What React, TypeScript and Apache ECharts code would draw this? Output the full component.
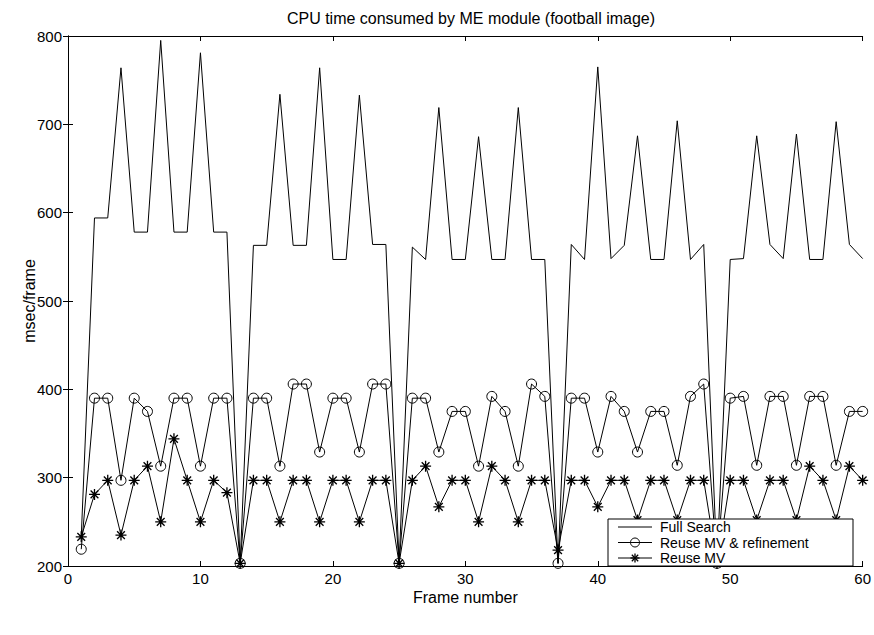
import React, { useEffect, useRef } from "react";
import * as echarts from "echarts";

const frames: number[] = Array.from({ length: 60 }, (_, i) => i + 1);

const fullSearch: number[] = [
  233, 594, 594, 764, 578, 578, 795, 578, 578, 781,
  578, 578, 203, 563, 563, 734, 563, 563, 764, 547,
  547, 733, 564, 564, 203, 561, 547, 719, 547, 547,
  686, 547, 547, 719, 547, 547, 203, 564, 547, 765,
  548, 563, 687, 547, 547, 704, 547, 564, 203, 547,
  548, 687, 564, 548, 689, 547, 547, 703, 564, 548,
];

const reuseRefine: number[] = [
  219, 390, 390, 297, 390, 375, 313, 390, 390, 313,
  390, 390, 203, 390, 390, 313, 406, 406, 329, 390,
  390, 329, 406, 406, 203, 390, 390, 329, 375, 375,
  313, 392, 375, 313, 406, 392, 203, 390, 390, 329,
  392, 375, 329, 375, 375, 314, 392, 406, 203, 390,
  392, 314, 392, 392, 314, 392, 392, 314, 375, 375,
];

const reuseMV: number[] = [
  233, 281, 297, 235, 297, 313, 250, 344, 297, 250,
  297, 283, 203, 297, 297, 250, 297, 297, 250, 297,
  297, 250, 297, 297, 203, 297, 313, 267, 297, 297,
  250, 313, 297, 250, 297, 297, 218, 297, 297, 267,
  297, 297, 252, 297, 297, 252, 297, 297, 203, 297,
  297, 252, 297, 297, 252, 313, 297, 252, 313, 297,
];

const seriesNames = ["Full Search", "Reuse MV & refinement", "Reuse MV"];
const titleText = "CPU time consumed by ME module (football image)";
const xName = "Frame number";
const yName = "msec/frame";

const asterisk =
  "path://M-1,-0.12L1,-0.12L1,0.12L-1,0.12Z" +
  "M-0.12,-1L0.12,-1L0.12,1L-0.12,1Z" +
  "M-0.792,-0.622L-0.622,-0.792L0.792,0.622L0.622,0.792Z" +
  "M0.622,-0.792L0.792,-0.622L-0.622,0.792L-0.792,0.622Z";

export default function App() {
  const ref = useRef<HTMLDivElement>(null);
  useEffect(() => {
    document.body.style.margin = "0";
    if (!ref.current) return;
    const chart = echarts.init(ref.current, null, { renderer: "svg" });
    const font = "'Liberation Sans', Arial, sans-serif";
    const pair = (arr: number[]) => frames.map((f, i) => [f, arr[i]]);

    const lx = 608;
    const ly = 519;
    const lw = 245;
    const lh = 47;
    const rows = [527, 542.5, 558];
    const sx0 = 618;
    const sx1 = 652;
    const cx = 635;
    const arm = 4.5;
    const d = arm * 0.707;

    const renderLegend = () => {
      const children: any[] = [
        { type: "rect", shape: { x: lx, y: ly, width: lw, height: lh }, style: { fill: "#fff", stroke: "#000", lineWidth: 1 } },
      ];
      rows.forEach((y, i) => {
        children.push({ type: "line", shape: { x1: sx0, y1: y, x2: sx1, y2: y }, style: { stroke: "#000", lineWidth: 1 } });
        children.push({
          type: "text",
          x: 660,
          y: y,
          style: { text: seriesNames[i], fill: "#000", font: `14px ${font}`, verticalAlign: "middle", align: "left" },
        });
      });
      children.push({ type: "circle", shape: { cx: cx, cy: rows[1], r: 4.5 }, style: { fill: "none", stroke: "#000", lineWidth: 1 } });
      const sw = { stroke: "#000", lineWidth: 1.3 };
      const y3 = rows[2];
      children.push({ type: "line", shape: { x1: cx - arm, y1: y3, x2: cx + arm, y2: y3 }, style: sw });
      children.push({ type: "line", shape: { x1: cx, y1: y3 - arm, x2: cx, y2: y3 + arm }, style: sw });
      children.push({ type: "line", shape: { x1: cx - d, y1: y3 - d, x2: cx + d, y2: y3 + d }, style: sw });
      children.push({ type: "line", shape: { x1: cx - d, y1: y3 + d, x2: cx + d, y2: y3 - d }, style: sw });
      return { type: "group", children };
    };

    chart.setOption({
      animation: false,
      backgroundColor: "#ffffff",
      title: {
        text: titleText,
        left: 466,
        textAlign: "center",
        top: 5,
        textStyle: { fontFamily: font, fontSize: 16, fontWeight: "normal", color: "#000" },
      },
      grid: { left: 68, right: 10, top: 36, bottom: 69 },
      xAxis: [
        {
          type: "value",
          min: 0,
          max: 60,
          interval: 10,
          name: xName,
          nameLocation: "middle",
          nameGap: 23,
          nameMoveOverlap: false,
          nameTextStyle: { fontFamily: font, fontSize: 16, color: "#000" },
          axisLine: { show: true, lineStyle: { color: "#000", width: 1 } },
          axisTick: { show: true, inside: true, length: 5, lineStyle: { color: "#000" } },
          axisLabel: { fontFamily: font, fontSize: 15, color: "#000", margin: 5 },
          splitLine: { show: false },
        },
        {
          type: "value",
          position: "top",
          min: 0,
          max: 60,
          interval: 10,
          axisLine: { show: true, lineStyle: { color: "#000", width: 1 } },
          axisTick: { show: true, inside: true, length: 5, lineStyle: { color: "#000" } },
          axisLabel: { show: false },
          splitLine: { show: false },
        },
      ],
      yAxis: [
        {
          type: "value",
          min: 200,
          max: 800,
          interval: 100,
          name: yName,
          nameLocation: "middle",
          nameGap: 31,
          nameMoveOverlap: false,
          nameTextStyle: { fontFamily: font, fontSize: 16, color: "#000" },
          axisLine: { show: true, lineStyle: { color: "#000", width: 1 } },
          axisTick: { show: true, inside: true, length: 5, lineStyle: { color: "#000" } },
          axisLabel: { fontFamily: font, fontSize: 15, color: "#000", margin: 6 },
          splitLine: { show: false },
        },
        {
          type: "value",
          position: "right",
          min: 200,
          max: 800,
          interval: 100,
          axisLine: { show: true, lineStyle: { color: "#000", width: 1 } },
          axisTick: { show: true, inside: true, length: 5, lineStyle: { color: "#000" } },
          axisLabel: { show: false },
          splitLine: { show: false },
        },
      ],
      series: [
        {
          name: seriesNames[0],
          type: "line",
          z: 2,
          data: pair(fullSearch),
          symbol: "none",
          lineStyle: { color: "#000", width: 1 },
          itemStyle: { color: "#000" },
        },
        {
          name: seriesNames[1],
          type: "line",
          z: 2,
          data: pair(reuseRefine),
          symbol: "circle",
          symbolSize: 10,
          showAllSymbol: true,
          lineStyle: { color: "#000", width: 1 },
          itemStyle: { color: "rgba(255,255,255,0)", borderColor: "#000", borderWidth: 1 },
        },
        {
          name: seriesNames[2],
          type: "line",
          z: 2,
          data: pair(reuseMV),
          symbol: asterisk,
          symbolSize: 11,
          showAllSymbol: true,
          lineStyle: { color: "#000", width: 1 },
          itemStyle: { color: "#000" },
        },
        {
          type: "custom",
          name: "legendBox",
          z: 50,
          zlevel: 1,
          silent: true,
          clip: false,
          data: [[0, 200]],
          renderItem: () => renderLegend(),
        },
      ],
    });
    return () => chart.dispose();
  }, []);
  return <div ref={ref} style={{ width: 874, height: 635 }} />;
}
